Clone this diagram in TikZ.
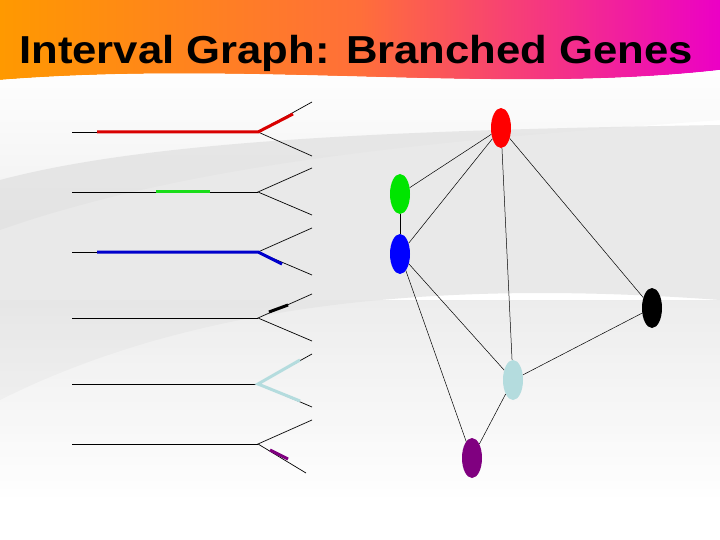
\documentclass[tikz,border=0pt]{standalone}
\usepackage{fontspec}
\usetikzlibrary{shapes.geometric}
\setmainfont{Liberation Sans}
\definecolor{lcyan}{HTML}{B4DCDE}
\definecolor{purp}{HTML}{800080}
\begin{document}
\begin{tikzpicture}[x=1pt,y=-1pt,
  bline/.style={black,line width=0.7pt},
  seg/.style={line width=3pt},
  vtx/.style={ellipse,minimum width=20pt,minimum height=40pt,inner sep=0pt},
  edge/.style={black,line width=0.5pt}]
\useasboundingbox (0,0) rectangle (720,540);
% background
\fill[white] (0,0) rectangle (720,540);
\shade[left color=orange!80!yellow,right color=magenta!70!purple,middle color=orange!60!red!70!pink]
  (0,0) -- (720,0) -- (720,70) .. controls (500,95) and (250,60) .. (0,80) -- cycle;
\shade[top color=white,bottom color=black!6] (0,80) .. controls (250,60) and (500,95) .. (720,70)
  -- (720,120) .. controls (450,140) and (200,160) .. (0,230) -- cycle;
\fill[black!14,opacity=0.6] (0,180) .. controls (150,140) and (400,130) .. (720,125)
  -- (720,300) .. controls (450,280) and (200,300) .. (0,400) -- cycle;
\shade[top color=black!10,bottom color=white,opacity=0.7] (0,300) rectangle (720,500);
\node[anchor=base west,font=\bfseries\fontsize{39}{44}\selectfont,inner sep=0pt,xscale=1.12] (title) at (19,64) {Interval Graph: Branched Genes};
% intervals
\foreach \y/\n in {132/1,192/2,252/3,318/4,384/5,444/6}{
  \coordinate (j\n) at (258,\y);
  \coordinate (s\n) at (72,\y);
  \draw[bline] (s\n) -- (j\n);
}
\coordinate (u1) at (312,102); \coordinate (d1) at (312,156);
\coordinate (u2) at (312,168); \coordinate (d2) at (312,215);
\coordinate (u3) at (312,228); \coordinate (d3) at (312,275);
\coordinate (u4) at (312,294); \coordinate (d4) at (312,341);
\coordinate (u5) at (312,354); \coordinate (d5) at (312,407);
\coordinate (u6) at (312,420); \coordinate (d6) at (306,473);
\foreach \n in {1,...,6}{\draw[bline] (u\n) -- (j\n) -- (d\n);}
\draw[seg,red!85!black] (97,132) -- (j1) -- (293,114);
\draw[seg,green!85!black!90] (156,192) -- (210,192);
\draw[seg,blue!80!black] (97,252) -- (j3) -- (282,264);
\draw[seg,black] (269,312) -- (288,305);
\draw[seg,lcyan] (300,360) -- (j5) -- (300,401);
\draw[seg,purp] (270,450) -- (288,459);
% graph
\node[vtx,fill=red] (R) at (501,128) {};
\node[vtx,fill=green!90!black] (G) at (400,194) {};
\node[vtx,fill=blue] (B) at (400,254) {};
\node[vtx,fill=black] (K) at (652,308) {};
\node[vtx,fill=lcyan] (C) at (513,380) {};
\node[vtx,fill=purp] (P) at (472,458) {};
\foreach \a/\b in {R/G,R/B,R/C,R/K,G/B,B/C,B/P,K/C,C/P}{\draw[edge] (\a) -- (\b);}
\end{tikzpicture}
\end{document}
